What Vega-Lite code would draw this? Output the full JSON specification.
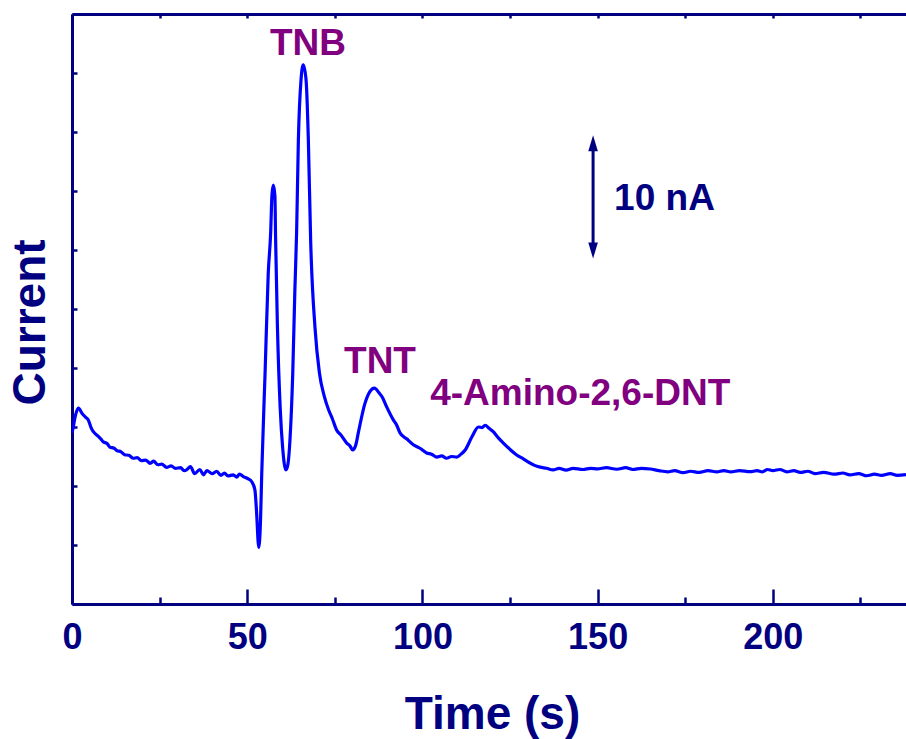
{
  "$schema": "https://vega.github.io/schema/vega-lite/v6.json",
  "autosize": {"type": "none"},
  "padding": {"left": 72, "top": 14, "right": 0, "bottom": 135},
  "width": 834,
  "height": 590,
  "background": "white",
  "config": {
    "view": {"stroke": null},
    "axis": {
      "grid": false,
      "domainColor": "#000080",
      "domainWidth": 3,
      "tickColor": "#000080",
      "tickWidth": 2.5,
      "labelColor": "#000080",
      "titleColor": "#000080",
      "labelFont": "Liberation Sans",
      "titleFont": "Liberation Sans",
      "labelFontWeight": "bold",
      "titleFontWeight": "bold",
      "labelFontSize": 36,
      "titleFontSize": 46,
      "labelFlush": false
    },
    "text": {"font": "Liberation Sans", "fontWeight": "bold", "fontSize": 37}
  },
  "datasets": {
    "trace": [
      {"t": 0.0, "v": 14.5}, {"t": 0.2, "v": 14.75}, {"t": 1.0, "v": 16.0}, {"t": 1.8, "v": 16.6},
      {"t": 3.0, "v": 16.1}, {"t": 4.0, "v": 15.8}, {"t": 4.65, "v": 15.6}, {"t": 5.5, "v": 14.9}, {"t": 6.1, "v": 14.6},
      {"t": 7.5, "v": 14.2}, {"t": 8.2, "v": 14.0}, {"t": 8.9, "v": 13.75}, {"t": 10.0, "v": 13.6}, {"t": 10.8, "v": 13.3}, {"t": 12.0, "v": 13.2}, {"t": 12.8, "v": 13.0},
      {"t": 14.0, "v": 12.9}, {"t": 15.0, "v": 12.65}, {"t": 16.2, "v": 12.6}, {"t": 17.5, "v": 12.35}, {"t": 18.6, "v": 12.4}, {"t": 19.8, "v": 12.15}, {"t": 21.0, "v": 12.2}, {"t": 22.3, "v": 11.92},
      {"t": 23.3, "v": 12.1}, {"t": 24.5, "v": 11.8}, {"t": 25.6, "v": 11.85}, {"t": 27.0, "v": 11.58}, {"t": 28.3, "v": 11.7}, {"t": 29.5, "v": 11.5}, {"t": 31.0, "v": 11.55}, {"t": 32.0, "v": 11.3}, {"t": 32.7, "v": 11.36},
      {"t": 33.8, "v": 11.65}, {"t": 35.0, "v": 11.05}, {"t": 36.5, "v": 11.4}, {"t": 37.5, "v": 10.95}, {"t": 38.5, "v": 11.3},
      {"t": 40.0, "v": 11.05}, {"t": 41.3, "v": 11.25}, {"t": 42.5, "v": 10.9}, {"t": 43.5, "v": 11.1}, {"t": 44.5, "v": 10.85}, {"t": 46.0, "v": 10.95},
      {"t": 47.0, "v": 10.75}, {"t": 47.8, "v": 11.0}, {"t": 48.9, "v": 10.8}, {"t": 50.3, "v": 10.6}, {"t": 51.3, "v": 10.36},
      {"t": 52.2, "v": 9.66}, {"t": 52.65, "v": 7.9}, {"t": 53.3, "v": 4.8}, {"t": 53.8, "v": 7.1},
      {"t": 54.15, "v": 11.1}, {"t": 55.1, "v": 19.6}, {"t": 56.0, "v": 28.0}, {"t": 56.7, "v": 31.5},
      {"t": 57.05, "v": 34.6}, {"t": 57.45, "v": 35.5}, {"t": 57.9, "v": 34.6}, {"t": 58.1, "v": 31.0},
      {"t": 58.6, "v": 23.8}, {"t": 59.4, "v": 16.7}, {"t": 60.1, "v": 13.3}, {"t": 61.05, "v": 11.36},
      {"t": 61.6, "v": 11.8}, {"t": 62.2, "v": 13.9}, {"t": 63.0, "v": 19.6}, {"t": 63.6, "v": 26.6},
      {"t": 64.1, "v": 31.5}, {"t": 64.6, "v": 39.3}, {"t": 65.35, "v": 44.4}, {"t": 66.0, "v": 45.7},
      {"t": 66.8, "v": 44.4}, {"t": 67.45, "v": 39.3}, {"t": 68.1, "v": 30.85}, {"t": 69.35, "v": 23.4},
      {"t": 70.6, "v": 19.6}, {"t": 72.0, "v": 17.6}, {"t": 73.3, "v": 16.4}, {"t": 74.3, "v": 15.7}, {"t": 75.5, "v": 14.75}, {"t": 76.8, "v": 14.3}, {"t": 78.4, "v": 13.64},
      {"t": 79.3, "v": 13.4}, {"t": 80.1, "v": 13.05}, {"t": 81.0, "v": 13.5}, {"t": 81.7, "v": 14.5}, {"t": 83.6, "v": 17.0}, {"t": 85.0, "v": 18.0},
      {"t": 86.3, "v": 18.3}, {"t": 87.6, "v": 17.9}, {"t": 88.6, "v": 17.5}, {"t": 89.8, "v": 16.7}, {"t": 91.7, "v": 15.6}, {"t": 92.6, "v": 15.2},
      {"t": 93.6, "v": 14.5}, {"t": 95.5, "v": 14.0}, {"t": 97.4, "v": 13.5}, {"t": 99.3, "v": 13.2}, {"t": 101.2, "v": 12.8}, {"t": 102.6, "v": 12.7}, {"t": 104.1, "v": 12.45},
      {"t": 105.5, "v": 12.55}, {"t": 106.9, "v": 12.35}, {"t": 108.3, "v": 12.5}, {"t": 109.8, "v": 12.45}, {"t": 111.0, "v": 12.7}, {"t": 112.2, "v": 13.05}, {"t": 114.1, "v": 14.15},
      {"t": 116.0, "v": 15.0}, {"t": 117.0, "v": 14.95}, {"t": 117.9, "v": 15.15}, {"t": 119.0, "v": 14.9}, {"t": 120.2, "v": 14.6}, {"t": 121.6, "v": 14.1}, {"t": 123.1, "v": 13.64},
      {"t": 125.0, "v": 13.1}, {"t": 126.9, "v": 12.63}, {"t": 128.8, "v": 12.3}, {"t": 130.7, "v": 11.95}, {"t": 132.0, "v": 11.75}, {"t": 133.6, "v": 11.6}, {"t": 135.4, "v": 11.5}, {"t": 137.3, "v": 11.36},
      {"t": 139.0, "v": 11.5}, {"t": 141.0, "v": 11.35}, {"t": 143.0, "v": 11.5}, {"t": 145.8, "v": 11.4}, {"t": 148.0, "v": 11.5}, {"t": 150.0, "v": 11.45}, {"t": 152.5, "v": 11.55}, {"t": 155.5, "v": 11.42},
      {"t": 158.0, "v": 11.55}, {"t": 160.0, "v": 11.4}, {"t": 162.5, "v": 11.5}, {"t": 165.0, "v": 11.44}, {"t": 167.5, "v": 11.3}, {"t": 170.0, "v": 11.2}, {"t": 172.0, "v": 11.3}, {"t": 174.4, "v": 11.13},
      {"t": 176.5, "v": 11.25}, {"t": 179.0, "v": 11.15}, {"t": 181.5, "v": 11.3}, {"t": 184.0, "v": 11.19}, {"t": 186.0, "v": 11.3}, {"t": 188.0, "v": 11.2}, {"t": 190.5, "v": 11.3}, {"t": 193.5, "v": 11.21},
      {"t": 195.5, "v": 11.3}, {"t": 197.0, "v": 11.2}, {"t": 198.5, "v": 11.4}, {"t": 200.0, "v": 11.3}, {"t": 202.0, "v": 11.4}, {"t": 204.0, "v": 11.2}, {"t": 206.0, "v": 11.3}, {"t": 207.8, "v": 11.15},
      {"t": 210.0, "v": 11.25}, {"t": 212.0, "v": 11.05}, {"t": 214.5, "v": 11.15}, {"t": 217.5, "v": 11.0}, {"t": 220.0, "v": 11.1}, {"t": 222.0, "v": 10.95}, {"t": 224.5, "v": 11.05}, {"t": 226.8, "v": 10.87},
      {"t": 229.0, "v": 11.0}, {"t": 231.0, "v": 10.9}, {"t": 233.5, "v": 11.05}, {"t": 235.5, "v": 10.9}, {"t": 238.0, "v": 10.97}
    ],
    "peaksCentered": [
      {"label": "TNB", "t": 67.35, "v": 47.5},
      {"label": "TNT", "t": 87.9, "v": 20.55}
    ],
    "peaksLeft": [
      {"label": "4-Amino-2,6-DNT", "t": 102.2, "v": 17.82}
    ],
    "scaleText": [
      {"label": "10 nA", "t": 154.7, "v": 34.32}
    ],
    "scaleBar": [
      {"t": 148.7, "v1": 29.95, "v2": 39.05}
    ]
  },
  "layer": [
    {
      "data": {"name": "trace"},
      "mark": {"type": "line", "color": "#0000FF", "strokeWidth": 3.2, "interpolate": "monotone", "clip": true},
      "encoding": {
        "x": {
          "field": "t", "type": "quantitative",
          "scale": {"domain": [0, 238], "nice": false, "zero": false},
          "axis": {
            "orient": "bottom", "values": [0, 50, 100, 150, 200], "tickSize": -15,
            "labelPadding": 31, "title": "Time (s)", "titleX": 420, "titleY": 124,
            "titleBaseline": "alphabetic", "titleAnchor": "middle"
          }
        },
        "y": {
          "field": "v", "type": "quantitative",
          "scale": {"domain": [0, 50], "nice": false, "zero": false},
          "axis": {
            "orient": "left", "values": [0, 5, 10, 15, 20, 25, 30, 35, 40, 45, 50],
            "tickSize": -5, "labels": false, "title": "Current",
            "titleAngle": -90, "titleX": -42, "titleY": 308,
            "titleBaseline": "middle", "titleAlign": "center"
          }
        }
      }
    },
    {
      "data": {"name": "peaksCentered"},
      "mark": {"type": "text", "color": "#800080", "align": "center", "baseline": "middle"},
      "encoding": {
        "x": {
          "field": "t", "type": "quantitative",
          "axis": {
            "orient": "bottom", "values": [25, 75, 125, 175, 225], "tickSize": -7,
            "labels": false, "title": null, "domain": false
          }
        },
        "y": {"field": "v", "type": "quantitative", "axis": null},
        "text": {"field": "label"}
      }
    },
    {
      "data": {"name": "peaksLeft"},
      "mark": {"type": "text", "color": "#800080", "align": "left", "baseline": "middle"},
      "encoding": {
        "x": {
          "field": "t", "type": "quantitative",
          "axis": {
            "orient": "top", "values": [0, 25, 50, 75, 100, 125, 150, 175, 200, 225],
            "tickSize": -4, "labels": false, "title": null
          }
        },
        "y": {"field": "v", "type": "quantitative", "axis": null},
        "text": {"field": "label"}
      }
    },
    {
      "data": {"name": "scaleText"},
      "mark": {"type": "text", "color": "#000080", "align": "left", "baseline": "middle"},
      "encoding": {
        "x": {"field": "t", "type": "quantitative", "axis": null},
        "y": {"field": "v", "type": "quantitative", "axis": null},
        "text": {"field": "label"}
      }
    },
    {
      "data": {"name": "scaleBar"},
      "mark": {"type": "rule", "color": "#000080", "strokeWidth": 3},
      "encoding": {
        "x": {"field": "t", "type": "quantitative", "axis": null},
        "y": {"field": "v1", "type": "quantitative", "axis": null},
        "y2": {"field": "v2"}
      }
    },
    {
      "data": {"name": "scaleBar"},
      "mark": {"type": "point", "filled": true, "color": "#000080", "opacity": 1, "size": 256, "shape": "M0,-1L0.6,1L-0.6,1Z"},
      "encoding": {
        "x": {"field": "t", "type": "quantitative", "axis": null},
        "y": {"field": "v2", "type": "quantitative", "axis": null}
      }
    },
    {
      "data": {"name": "scaleBar"},
      "mark": {"type": "point", "filled": true, "color": "#000080", "opacity": 1, "size": 256, "shape": "M0,1L0.6,-1L-0.6,-1Z"},
      "encoding": {
        "x": {"field": "t", "type": "quantitative", "axis": null},
        "y": {"field": "v1", "type": "quantitative", "axis": null}
      }
    }
  ],
  "resolve": {"axis": {"x": "independent", "y": "independent"}}
}
